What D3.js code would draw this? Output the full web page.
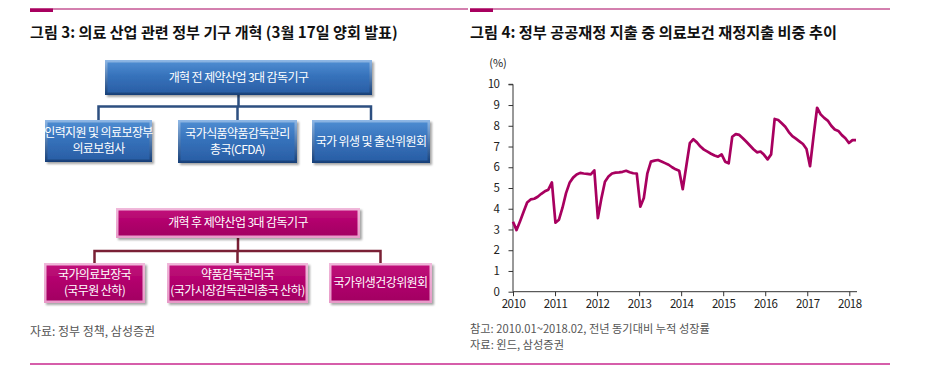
<!DOCTYPE html>
<html><head><meta charset="utf-8">
<script src="https://cdn.jsdelivr.net/npm/d3@7"></script>
<style>
html,body{margin:0;padding:0;background:#fff;}
svg{display:block;font-family:"Noto Sans CJK KR","Noto Sans",sans-serif;}
</style></head>
<body><svg id="c" width="935" height="377"></svg>
<script>
// ---------- data ----------
const leftTitle = "그림 3: 의료 산업 관련 정부 기구 개혁 (3월 17일 양회 발표)";
const rightTitle = "그림 4: 정부 공공재정 지출 중 의료보건 재정지출 비중 추이";
const leftSource = "자료: 정부 정책, 삼성증권";
const rightNote = "참고: 2010.01~2018.02, 전년 동기대비 누적 성장률";
const rightSource = "자료: 윈드, 삼성증권";
const beforeTop = "개혁 전 제약산업 3대 감독기구";
const beforeChildren = [["인력지원 및 의료보장부", "의료보험사"], ["국가식품약품감독관리", "총국(CFDA)"], ["국가 위생 및 출산위원회"]];
const afterTop = "개혁 후 제약산업 3대 감독기구";
const afterChildren = [["국가의료보장국", "(국무원 산하)"], ["약품감독관리국", "(국가시장감독관리총국 산하)"], ["국가위생건강위원회"]];
const yearLabels = ["2010","2011","2012","2013","2014","2015","2016","2017","2018"];
const yTicks = [0,1,2,3,4,5,6,7,8,9,10];
const unitLabel = "(%)";
// monthly 2010.01 ~ 2018.02
const share = [
 3.37,2.97,3.40,3.85,4.30,4.45,4.48,4.58,4.72,4.84,4.92,5.27,
 3.33,3.47,4.05,4.75,5.25,5.50,5.65,5.73,5.70,5.68,5.66,5.85,
 3.55,4.50,5.30,5.55,5.70,5.74,5.75,5.78,5.83,5.76,5.71,5.70,
 4.10,4.52,5.71,6.27,6.32,6.35,6.28,6.20,6.12,6.00,5.90,5.83,
 4.94,6.05,7.16,7.35,7.20,7.00,6.85,6.75,6.65,6.57,6.51,6.62,
 6.27,6.19,7.47,7.60,7.56,7.40,7.23,7.05,6.87,6.72,6.76,6.60,
 6.38,6.62,8.33,8.28,8.12,7.95,7.70,7.50,7.38,7.25,7.12,6.88,
 6.05,7.50,8.87,8.55,8.38,8.25,8.00,7.82,7.75,7.55,7.40,7.17,
 7.31,7.31
];

// ---------- setup ----------
const svg = d3.select("#c");
const magenta = "#a8005f";
const defs = svg.append("defs");

function grad(id, stops){
  const g = defs.append("linearGradient").attr("id", id).attr("x1",0).attr("y1",0).attr("x2",0).attr("y2",1);
  stops.forEach(s => g.append("stop").attr("offset", s[0]).attr("stop-color", s[1]));
}
grad("blueFace", [[0,"#4d8bd0"],[0.45,"#3672bb"],[1,"#2a5fa6"]]);
grad("blueEdge", [[0,"#8fb8e6"],[1,"#163f78"]]);
grad("magFace", [[0,"#c0107a"],[0.5,"#b0006b"],[1,"#a30063"]]);
grad("magEdge", [[0,"#f0b8da"],[1,"#e89ac8"]]);
const f = defs.append("filter").attr("id","shadow").attr("x","-10%").attr("y","-10%").attr("width","130%").attr("height","140%");
f.append("feDropShadow").attr("dx",2).attr("dy",2).attr("stdDeviation",1.2).attr("flood-color","#000").attr("flood-opacity",0.35);

// fit text to a target width by adjusting font-size
function fit(sel, target){
  const n = sel.node();
  const fs = parseFloat(sel.attr("font-size"));
  const w = n.getComputedTextLength();
  if (w > 0) sel.attr("font-size", (fs*target/w).toFixed(2));
  return sel;
}

// header rules
function headerRule(x0, x1){
  svg.append("line").attr("x1",x0).attr("x2",x1).attr("y1",9).attr("y2",9).attr("stroke",magenta).attr("stroke-width",1);
  svg.append("rect").attr("x",x0).attr("y",8.5).attr("width",23).attr("height",3.5).attr("fill",magenta);
}
headerRule(30, 468);
headerRule(470, 890);
svg.append("line").attr("x1",30).attr("x2",470).attr("y1",364).attr("y2",364).attr("stroke","#c8288e").attr("stroke-width",1.3);
svg.append("line").attr("x1",470).attr("x2",890).attr("y1",364).attr("y2",364).attr("stroke","#c8288e").attr("stroke-width",1.3);

fit(svg.append("text").attr("x",30).attr("y",38).attr("font-size",15).attr("font-weight",700).attr("fill","#111").text(leftTitle), 368);
fit(svg.append("text").attr("x",470).attr("y",38).attr("font-size",15).attr("font-weight",700).attr("fill","#111").text(rightTitle), 367);

fit(svg.append("text").attr("x",30).attr("y",336).attr("font-size",11).attr("fill","#555").text(leftSource), 125);
fit(svg.append("text").attr("x",470).attr("y",333).attr("font-size",11).attr("fill","#555").text(rightNote), 240);
fit(svg.append("text").attr("x",470).attr("y",348.5).attr("font-size",11).attr("fill","#555").text(rightSource), 94);

// ---------- org diagram ----------
function box(g, b, lines, kind){
  const edge = kind==="blue" ? "url(#blueEdge)" : "url(#magEdge)";
  const face = kind==="blue" ? "url(#blueFace)" : "url(#magFace)";
  const gg = g.append("g").attr("filter","url(#shadow)");
  gg.append("rect").attr("x",b.x).attr("y",b.y).attr("width",b.w).attr("height",b.h).attr("fill",edge);
  gg.append("rect").attr("x",b.x+2.5).attr("y",b.y+2.5).attr("width",b.w-5).attr("height",b.h-5).attr("fill",face);
  const lh = 16;
  const cy = b.y + b.h/2;
  lines.forEach((t,i) => {
    g.append("text").attr("x",b.x+b.w/2).attr("y",cy + (i-(lines.length-1)/2)*lh)
      .attr("dy","0.35em").attr("text-anchor","middle").attr("font-size",12).attr("letter-spacing",-0.6)
      .attr("fill","#fff").text(t);
  });
}
function tree(topLabel, children, lay, kind, lineColor){
  const g = svg.append("g");
  const tb = lay.top;
  const cx = tb.x + tb.w/2;
  const centers = lay.kids.map(k => k.x + k.w/2);
  const path = d3.path();
  path.moveTo(cx, tb.y+tb.h); path.lineTo(cx, lay.busY);
  path.moveTo(centers[0], lay.kids[0].y); path.lineTo(centers[0], lay.busY);
  path.lineTo(centers[centers.length-1], lay.busY); path.lineTo(centers[centers.length-1], lay.kids[0].y);
  centers.slice(1,-1).forEach(c => { path.moveTo(c, lay.busY); path.lineTo(c, lay.kids[0].y); });
  g.append("path").attr("d",path.toString()).attr("fill","none").attr("stroke",lineColor).attr("stroke-width",2.5);
  box(g, tb, [topLabel], kind);
  children.forEach((c,i) => box(g, lay.kids[i], c, kind));
}
const layoutBefore = {
  top:{x:105,y:60,w:267,h:35}, busY:106.5,
  kids:[{x:45,y:120,w:107,h:42},{x:178,y:120,w:119,h:43},{x:312,y:120,w:118,h:43}]
};
const layoutAfter = {
  top:{x:116,y:208,w:244,h:30}, busY:251,
  kids:[{x:44,y:263,w:101,h:40},{x:167,y:263,w:141,h:40},{x:329,y:263,w:103,h:40}]
};
tree(beforeTop, beforeChildren, layoutBefore, "blue", "#2d4f80");
tree(afterTop, afterChildren, layoutAfter, "mag", "#7a2035");

// ---------- line chart ----------
const y = d3.scaleLinear().domain([0,10]).range([291.7, 84.3]);
const x = d3.scaleLinear().domain([0, share.length-1]).range([513, 856]);
const xYear = d3.scaleLinear().domain([2010, 2018]).range([513, 849.3]);

const ch = svg.append("g");
const yAxis = d3.axisLeft(y).tickValues(yTicks).tickSize(4.5).tickPadding(9).tickFormat(d3.format("d"));
const yg = ch.append("g").attr("transform","translate(513,0)").call(yAxis);
yg.select(".domain").attr("d", `M-4.5,${y(10)}H0V${y(0)}`).attr("stroke","#333");
const xAxis = d3.axisBottom(xYear).tickValues(yearLabels.map(Number)).tickSize(4.5).tickPadding(4).tickFormat(d3.format("d"));
const xg = ch.append("g").attr("transform",`translate(0,${y(0)})`).call(xAxis);
xg.select(".domain").attr("d", `M513,0H857`).attr("stroke","#333");
[yg, xg].forEach(g => {
  g.selectAll(".tick line").attr("stroke","#333");
  g.selectAll(".tick text").attr("font-size",11.5).attr("letter-spacing",-0.5).attr("fill","#222")
    .attr("font-family","'Noto Sans CJK KR','Noto Sans',sans-serif");
});
ch.append("text").attr("x",498).attr("y",67).attr("text-anchor","middle").attr("font-size",11).attr("fill","#222").text(unitLabel);

const line = d3.line().x((d,i)=>x(i)).y(d=>y(d));
ch.append("path").datum(share).attr("d",line).attr("fill","none").attr("stroke",magenta).attr("stroke-width",2.7).attr("stroke-linejoin","round");
</script></body></html>
